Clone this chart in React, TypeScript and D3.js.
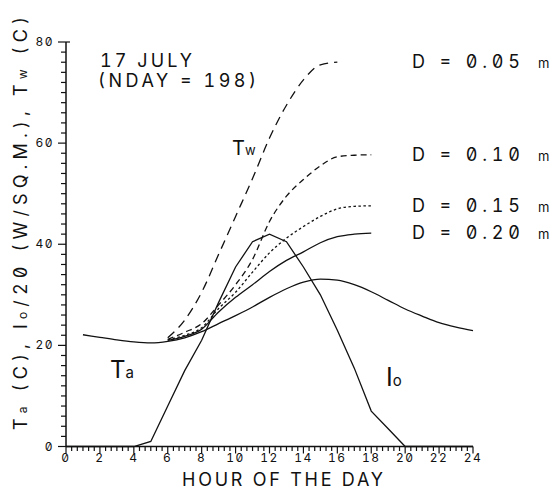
import React from "react";
import * as d3 from "d3";

const hoursTa = [1,2,3,4,5,6,7,8,9,10,11,12,13,14,15,16,17,18,19,20,21,22,23,24];
const ta = [22.1,21.6,21.1,20.7,20.5,20.8,21.5,22.7,24.3,25.9,27.6,29.5,31.2,32.5,33.1,32.9,32.0,30.6,28.9,27.2,25.8,24.5,23.6,22.9];
const hoursIo = [0,1,2,3,4,5,6,7,8,9,10,11,12,13,14,15,16,17,18,19,20,21,22,23,24];
const io20 = [0,0,0,0,0,1,8,15,21,28.5,35.5,40.5,42,40.5,35.5,30,23,15.5,7,3.5,0,0,0,0,0];
const hoursW05 = [6,7,8,9,10,11,12,13,14,15,16];
const tw05 = [21.5,25,30.5,38,45.5,53,61,67.5,72.5,75.5,76];
const hoursW = [6,7,8,9,10,11,12,13,14,15,16,17,18];
const tw10 = [21.2,22.6,24.3,28.0,32,37,44.5,49.5,52.8,55.5,57.3,57.6,57.7];
const tw15 = [21.1,22.0,23.5,27.3,30.5,34.5,38.3,41.2,43.5,45.5,47.0,47.5,47.6];
const tw20 = [21.0,21.8,23.2,26.6,29.5,32.0,34.6,36.8,38.5,40.3,41.5,42.0,42.2];
const xTickLabels = ["0","2","4","6","8","10","12","14","16","18","20","22","24"];
const yTickLabels = ["0","20","40","60","80"];
const dLabels = ["0.05","0.10","0.15","0.20"];
const dLabelValues = [76,57.7,47.6,42.2];

const FONT = "Inter, 'DejaVu Sans', sans-serif";
const FEAT = '"zero" 1, "tnum" 1';

export default function App() {
  const x = d3.scaleLinear().domain([0, 24]).range([66, 473]);
  const y = d3.scaleLinear().domain([0, 80]).range([446.5, 42]);
  const smooth = d3.line<[number, number]>().x(d => x(d[0])).y(d => y(d[1])).curve(d3.curveMonotoneX);
  const straight = d3.line<[number, number]>().x(d => x(d[0])).y(d => y(d[1]));
  const zip = (h: number[], v: number[]) => h.map((hh, i) => [hh, v[i]] as [number, number]);

  const xMinor = d3.range(0, 24 * 3 + 1).map(i => i / 3);
  const yMinor = d3.range(0, 41).map(i => i * 2);

  const series = [
    { d: zip(hoursTa, ta), dash: "none", gen: smooth },
    { d: zip(hoursIo, io20), dash: "none", gen: straight },
    { d: zip(hoursW05, tw05), dash: "9,6", gen: smooth },
    { d: zip(hoursW, tw10), dash: "6,4", gen: smooth },
    { d: zip(hoursW, tw15), dash: "2.5,2.5", gen: smooth },
    { d: zip(hoursW, tw20), dash: "none", gen: smooth },
  ];

  const txt = { fontFamily: FONT, fill: "#111", style: { fontFeatureSettings: FEAT } } as const;

  return (
    <svg width={557} height={489} style={{ position: "absolute", left: 0, top: 0, background: "#fff" }}>
      <rect width={557} height={489} fill="#fff" />
      {/* axes */}
      <line x1={x(0)} x2={x(24)} y1={y(0)} y2={y(0)} stroke="#111" strokeWidth={1.5} />
      <line x1={x(0)} x2={x(0)} y1={y(0)} y2={y(80)} stroke="#111" strokeWidth={1.5} />
      <line x1={x(0)} x2={x(0) + 4} y1={y(80)} y2={y(80)} stroke="#111" strokeWidth={1.2} />
      {xMinor.map((h, i) => {
        const major = i % 6 === 0;
        return <line key={"xt" + i} x1={x(h)} x2={x(h)} y1={y(0)} y2={y(0) + (major ? 7 : 4.5)} stroke="#111" strokeWidth={1.2} />;
      })}
      {yMinor.map((v, i) => {
        const major = v % 20 === 0;
        return <line key={"yt" + i} x1={x(0)} x2={x(0) - (major ? 8 : 5)} y1={y(v)} y2={y(v)} stroke="#111" strokeWidth={1.2} />;
      })}
      {xTickLabels.map((t, i) => (
        <text key={"xl" + i} x={x(i * 2)} y={462} textAnchor="middle" fontSize={12} letterSpacing={1.5} {...txt}>{t}</text>
      ))}
      {yTickLabels.map((t, i) => (
        <text key={"yl" + i} x={54} y={y(i * 20) + 4} textAnchor="end" fontSize={12} letterSpacing={1.5} {...txt}>{t}</text>
      ))}
      {/* curves */}
      {series.map((s, i) => (
        <path key={"s" + i} d={s.gen(s.d) || ""} fill="none" stroke="#111" strokeWidth={1.3} strokeDasharray={s.dash} />
      ))}
      {/* annotations */}
      <text x={100} y={67} fontSize={18} textLength={92} lengthAdjust="spacing" {...txt}>17 JULY</text>
      <text x={98} y={87} fontSize={18} textLength={158} lengthAdjust="spacing" {...txt}>(NDAY = 198)</text>
      {dLabels.map((t, i) => (
        <g key={"dl" + i}>
          <text x={412} y={y(dLabelValues[i]) + 6} fontSize={18} textLength={108} lengthAdjust="spacing" {...txt}>{"D = " + t}</text>
          <text x={538} y={y(dLabelValues[i]) + 6} fontSize={13} {...txt}>m</text>
        </g>
      ))}
      <text x={232} y={155} fontSize={20} {...txt}>T<tspan fontSize={13}>w</tspan></text>
      <text x={110} y={378} fontSize={24} {...txt}>T<tspan fontSize={15}>a</tspan></text>
      <text x={386} y={386} fontSize={25} {...txt}>I<tspan fontSize={15}>o</tspan></text>
      <text x={182} y={486} fontSize={18} textLength={201} lengthAdjust="spacing" {...txt}>HOUR OF THE DAY</text>
      <text transform="translate(27,223.5) rotate(-90)" textAnchor="middle" textLength={413} lengthAdjust="spacing" fontSize={18} {...txt}>
        T<tspan fontSize={12}>a</tspan> (C), I<tspan fontSize={12}>o</tspan>/20 (W/SQ.M.), T<tspan fontSize={12}>w</tspan> (C)
      </text>
    </svg>
  );
}
